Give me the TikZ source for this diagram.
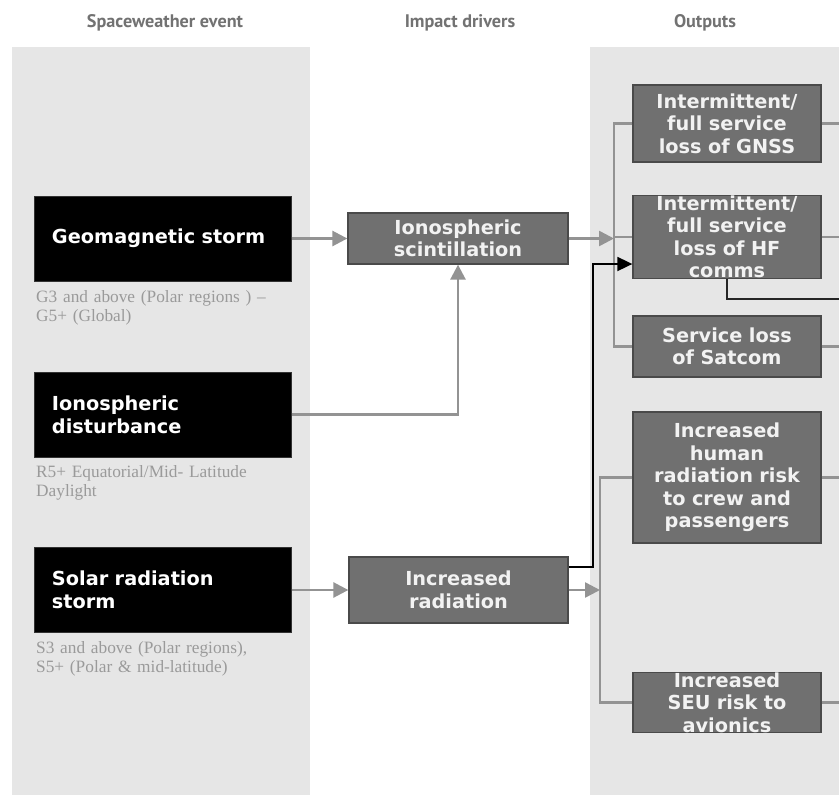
\documentclass[tikz,border=0pt]{standalone}
\usepackage{fontspec}
\setmainfont{DejaVu Sans}
\newfontfamily\headfont{PT Sans}
\newfontfamily\capfont{Liberation Serif}
\usetikzlibrary{arrows.meta}

\definecolor{panelgrey}{HTML}{E6E6E6}
\definecolor{boxgrey}{HTML}{707070}
\definecolor{boxedge}{HTML}{4A4A4A}
\definecolor{linegrey}{HTML}{939393}
\definecolor{headgrey}{HTML}{727272}
\definecolor{capgrey}{HTML}{9A9A9A}
\definecolor{boxtext}{HTML}{F2F2F2}

\tikzset{
  panel/.style={fill=panelgrey, draw=none},
  header/.style={font=\headfont\bfseries\fontsize{18.2}{21}\selectfont, text=headgrey},
  eventbox/.style={fill=black, draw=black!80, line width=1pt,
    minimum width=257pt, minimum height=85pt, text width=221pt,
    inner xsep=18pt, inner ysep=0pt, align=left, text=white,
    font=\bfseries\fontsize{19.3}{23}\selectfont},
  caption/.style={anchor=base west, text width=270pt, align=left,
    inner sep=0pt, text=capgrey, font=\capfont\fontsize{17.3}{19.5}\selectfont},
  greybox/.style={fill=boxgrey, draw=boxedge, line width=1.3pt,
    inner sep=0pt, align=center, text=boxtext,
    font=\bfseries\fontsize{19.3}{22.5}\selectfont},
  link/.style={draw=linegrey, line width=2.6pt},
  linkarrow/.style={link, -{Triangle[length=15pt,width=15pt]}},
  blacklink/.style={draw=black, line width=1.8pt},
  blackarrow/.style={blacklink, -{Triangle[length=15pt,width=14pt]}},
}

\begin{document}
\begin{tikzpicture}[x=1pt,y=-1pt]
  \useasboundingbox (0,0) rectangle (839,804);
  \fill[white] (0,0) rectangle (839,804);

  % background columns
  \fill[panel] (12,47) rectangle (310,795);
  \fill[panel] (590,47) rectangle (839,795);

  % column headers
  \node[header] (h1) at (165,23) {Spaceweather event};
  \node[header] (h2) at (460,23) {Impact drivers};
  \node[header] (h3) at (705,23) {Outputs};

  % space weather events
  \node[eventbox] (geo) at (162.5,238.5) {Geomagnetic storm};
  \node[eventbox] (iono) at (162.5,414.5) {Ionospheric\\disturbance};
  \node[eventbox] (solar) at (162.5,590) {Solar radiation\\storm};

  \node[caption] (c1) at (36,302) {G3 and above (Polar regions ) –\\G5+ (Global)};
  \node[caption] (c2) at (36,477) {R5+ Equatorial/Mid- Latitude\\Daylight};
  \node[caption] (c3) at (36,653) {S3 and above (Polar regions),\\S5+ (Polar \& mid-latitude)};

  % impact drivers
  \node[greybox, minimum width=220pt, minimum height=51pt] (scint) at (458,238.5)
    {Ionospheric\\scintillation};
  \node[greybox, minimum width=219pt, minimum height=66pt] (rad) at (458.5,590)
    {Increased\\radiation};

  % outputs
  \node[greybox, text width=188pt, minimum height=77pt] (gnss) at (727,123.5)
    {Intermittent/\\full service\\loss of GNSS};
  \node[greybox, text width=188pt, minimum height=82pt] (hf) at (727,237)
    {Intermittent/\\full service\\loss of HF\\comms};
  \node[greybox, text width=188pt, minimum height=61pt] (sat) at (727,346.5)
    {Service loss\\of Satcom};
  \node[greybox, text width=188pt, minimum height=131pt] (human) at (727,477.5)
    {Increased\\human\\radiation risk\\to crew and\\passengers};
  \node[greybox, text width=188pt, minimum height=59pt] (seu) at (727,702.5)
    {Increased\\SEU risk to\\avionics};

  % junction points and the right edge
  \coordinate (busA) at (614,238.5);
  \coordinate (busB) at (600,590);
  \coordinate (edge) at (839,0);
  \coordinate (hfdrop) at (727,299);

  % event -> driver
  \draw[linkarrow] (geo.east) -- (scint.west);
  \draw[linkarrow] (iono.east) -| (scint.south);
  \draw[linkarrow] (solar.east) -- (rad.west);

  % scintillation -> communication outputs
  \draw[linkarrow] (scint.east) -- (busA);
  \draw[link] (gnss.west) -- (gnss.west -| busA) -- (sat.west -| busA) -- (sat.west);
  \draw[link] (hf.west -| busA) -- (hf.west);

  % radiation -> health and avionics outputs
  \draw[linkarrow] (rad.east) -- (busB);
  \draw[link] (human.west) -- (human.west -| busB) -- (seu.west -| busB) -- (seu.west);

  % radiation also affects HF comms
  \draw[blackarrow] ([yshift=23pt]rad.east) -- ++(24,0) |- ([yshift=-27pt]hf.west);

  % outputs leaving to the right
  \draw[link] (gnss.east) -- (gnss.east -| edge);
  \draw[link] (hf.east) -- (hf.east -| edge);
  \draw[link] (sat.east) -- (sat.east -| edge);
  \draw[link] (human.east) -- (human.east -| edge);
  \draw[link] (seu.east) -- (seu.east -| edge);
  \draw[blacklink, draw=black!85] (hf.south) -- (hfdrop) -- (hfdrop -| edge);
\end{tikzpicture}
\end{document}
